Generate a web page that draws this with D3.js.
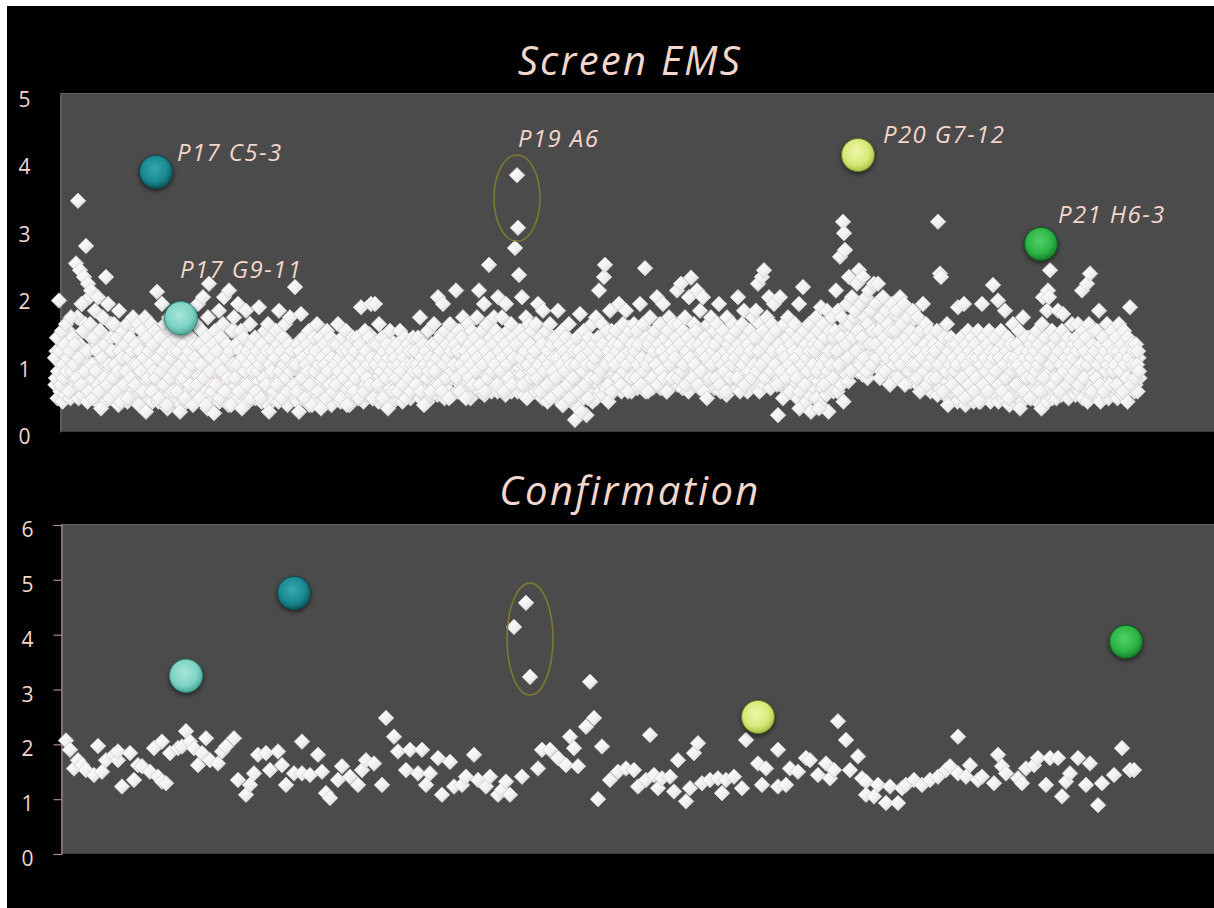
<!DOCTYPE html>
<html><head><meta charset="utf-8">
<script src="https://cdn.jsdelivr.net/npm/d3@7"></script>
<style>html,body{margin:0;padding:0;background:#fff;} svg{display:block}</style>
</head><body>
<svg id="c" width="1214" height="908"></svg>
<script>
// ---------- DATA ----------
const panelTitles = ["Screen EMS", "Confirmation"];
const screenTicks = [0, 1, 2, 3, 4, 5];
const confirmTicks = [0, 1, 2, 3, 4, 5, 6];

// Screen EMS, replicate 1: one value per well, in plate order
const screenValues = [
1.1,0.8,1.4,0.9,1.95,1.2,0.7,1.5,1.0,0.8,1.3,1.6,0.9,1.1,0.6,1.2,1.7,0.9,1.4,1.0,
1.3,2.5,0.8,3.43,1.1,2.4,0.7,1.9,1.5,2.3,0.9,2.76,1.2,2.2,0.6,1.6,2.1,1.0,0.5,1.4,
1.8,0.9,1.2,2.0,0.6,1.5,0.35,1.1,1.7,0.8,1.3,2.3,0.7,1.9,1.0,0.5,1.4,1.2,0.8,1.6,
1.0,0.6,1.4,0.9,1.8,1.2,0.45,1.1,1.5,0.7,1.3,0.9,1.6,0.5,1.1,1.4,0.8,1.2,1.7,1.0,
0.7,1.3,1.0,1.6,0.4,1.2,0.9,1.5,0.6,1.1,1.7,0.3,1.4,0.8,1.2,1.0,1.6,0.6,1.3,0.9,
1.5,0.8,2.08,1.1,0.5,1.4,0.9,1.9,1.2,0.7,1.6,1.0,0.4,1.3,1.7,0.8,1.1,1.5,0.6,1.2,
0.9,1.4,0.6,1.2,1.7,0.3,1.0,1.5,0.8,1.3,0.5,1.1,1.6,0.9,1.2,0.7,1.4,1.0,0.4,1.3,
1.1,1.6,0.7,1.9,1.3,0.5,1.0,1.5,2.0,0.8,1.2,0.4,1.4,1.7,2.2,0.9,1.1,0.6,1.3,0.28,
1.5,0.7,1.2,1.0,1.8,0.5,1.4,0.9,1.6,2.0,0.6,1.1,1.3,0.8,2.1,1.2,0.4,1.5,1.0,1.7,
0.8,1.3,1.0,1.9,0.6,1.2,1.5,0.35,1.1,1.4,0.9,1.8,0.7,1.2,1.0,1.6,0.5,1.3,0.9,1.1,
1.4,0.6,1.2,0.9,1.85,1.0,0.5,1.3,1.1,0.8,1.5,0.7,1.2,1.6,0.3,1.0,1.4,0.9,1.2,0.6,
1.1,1.5,0.7,1.3,1.8,0.9,1.2,0.5,1.4,1.0,1.6,0.8,1.1,0.6,1.3,1.7,0.9,1.2,1.0,0.7,
2.15,1.0,0.6,1.3,0.3,1.2,1.75,0.8,1.1,1.4,0.5,1.0,1.3,0.9,1.5,0.7,1.2,0.4,1.1,1.4,
0.9,1.2,1.6,0.6,1.0,1.4,0.35,1.1,0.8,1.3,1.0,0.5,1.5,0.9,1.2,0.7,1.4,1.1,0.6,1.3,
1.0,0.7,1.3,1.6,0.9,1.1,0.5,1.4,1.2,0.8,1.0,1.5,0.4,1.2,0.9,1.3,0.7,1.1,1.4,0.6,
1.2,0.8,1.4,1.0,0.5,1.3,1.85,0.9,1.1,0.6,1.5,1.2,0.8,1.0,1.4,0.7,1.9,1.1,0.5,1.3,
1.9,1.0,1.3,0.7,1.6,1.1,0.9,1.4,0.5,1.2,1.0,0.8,1.3,0.35,1.1,1.5,0.9,1.2,0.6,1.0,
1.1,0.8,1.3,0.6,1.0,1.5,0.9,1.2,0.7,1.1,1.4,0.5,1.0,1.3,0.8,1.2,0.6,1.0,1.4,0.9,
1.2,0.7,1.0,1.4,0.9,1.7,0.6,1.1,1.3,0.4,1.0,1.2,0.8,1.5,0.9,1.1,0.6,1.3,1.0,1.6,
0.9,1.3,1.1,2.0,0.7,1.4,1.2,0.6,1.9,1.0,1.5,0.8,1.3,1.1,0.5,1.6,1.2,0.9,1.4,1.0,
1.3,2.1,0.8,1.2,1.5,0.6,1.0,1.4,1.7,0.9,1.2,0.5,1.1,1.6,0.8,1.3,1.0,1.5,0.7,1.2,
1.4,0.9,1.7,1.1,2.1,0.7,1.3,1.5,1.0,1.9,0.6,1.2,1.6,0.8,2.48,1.1,1.4,0.9,1.3,1.7,
1.0,1.5,0.7,2.0,1.2,1.4,0.9,1.7,1.1,0.6,1.3,1.9,1.0,1.5,0.8,1.2,1.6,0.7,1.4,1.1,
2.73,1.3,3.81,3.03,2.33,1.5,1.1,2.0,0.7,1.4,1.2,1.7,0.5,1.0,1.6,1.3,0.8,1.5,1.1,0.9,
1.2,1.6,0.8,1.9,1.0,1.4,0.6,1.3,1.8,0.9,1.1,1.5,0.7,1.2,1.0,1.6,0.5,1.3,0.9,1.1,
1.4,0.8,1.1,1.8,0.6,1.3,1.0,1.5,0.4,1.2,0.9,1.4,0.7,1.1,1.6,0.5,1.0,1.3,0.8,1.2,
0.18,1.0,1.4,0.6,1.2,1.75,0.3,1.1,0.9,1.5,0.7,1.3,1.0,0.5,1.4,1.2,0.8,1.6,1.0,1.3,
1.1,1.7,0.8,1.4,2.1,1.2,0.9,1.6,1.3,2.3,2.48,1.0,1.5,0.7,1.2,1.8,1.1,0.6,1.4,1.3,
1.0,1.5,1.2,0.8,1.9,1.3,0.7,1.1,1.6,0.9,1.4,1.8,1.0,0.6,1.2,1.5,0.8,1.3,1.1,1.6,
1.2,0.8,1.5,1.0,1.3,1.9,0.7,1.1,1.6,0.9,2.43,1.4,1.0,0.6,1.3,1.7,1.1,0.8,1.4,1.2,
1.5,1.0,2.0,0.7,1.3,1.6,0.9,1.2,1.9,0.8,1.4,1.1,0.6,1.5,1.7,1.0,1.3,0.8,1.2,1.6,
1.1,1.4,2.1,0.8,1.6,1.3,2.2,0.9,1.5,1.0,1.7,0.7,1.2,1.4,2.0,1.1,2.29,0.8,1.3,1.6,
1.0,1.5,2.1,0.7,1.3,1.8,0.9,1.2,2.0,0.6,1.4,1.1,0.5,1.6,1.3,0.8,1.7,1.0,1.2,1.5,
1.3,0.8,1.6,1.1,1.9,0.7,1.4,1.0,1.5,0.9,1.2,0.6,1.7,1.1,1.3,0.8,1.4,1.0,1.6,1.2,
1.1,1.5,0.8,2.0,1.3,0.6,1.2,1.6,1.0,1.8,0.7,1.4,1.1,1.3,0.9,1.5,1.2,0.8,1.7,1.0,
1.4,1.8,0.9,2.2,1.2,1.6,1.0,2.3,1.5,2.4,0.8,1.3,1.7,1.1,2.0,1.4,0.9,1.6,1.2,1.9,
1.0,1.5,0.7,0.25,1.3,2.0,0.9,1.2,0.5,1.6,1.1,0.8,1.4,1.7,1.0,0.6,1.3,1.5,0.9,1.2,
1.6,1.1,0.8,1.4,1.9,0.6,1.2,1.0,2.15,1.5,0.7,1.3,1.1,0.9,1.6,1.2,0.3,1.4,1.0,1.3,
1.2,1.7,0.9,1.5,0.35,1.3,1.85,1.0,1.6,0.7,1.4,1.1,1.8,0.9,1.2,1.5,1.0,1.7,0.8,1.4,
1.5,2.1,1.2,1.8,1.0,2.6,1.4,1.7,3.12,2.95,2.7,1.3,1.9,1.1,2.3,1.6,0.9,2.0,1.4,1.7,
1.8,1.2,2.2,1.5,2.4,1.0,1.9,1.4,2.3,1.1,1.7,2.0,0.9,1.6,2.1,1.3,1.8,1.0,1.5,2.2,
1.3,1.9,1.1,2.2,1.5,0.8,1.7,1.2,2.0,1.4,0.9,1.8,1.1,1.6,1.3,0.7,1.5,1.9,1.2,1.0,
1.5,1.1,1.8,0.8,1.3,2.0,1.0,1.6,1.2,1.9,0.7,1.4,1.1,1.7,0.9,1.3,1.5,1.0,1.8,1.2,
1.0,1.4,0.8,1.7,1.2,0.6,1.5,1.1,1.9,0.9,1.3,1.6,0.7,1.2,1.0,1.5,0.8,1.4,1.1,1.3,
1.2,0.8,1.5,3.12,1.0,2.35,2.3,1.3,0.6,1.4,1.1,0.9,1.6,0.4,1.2,1.0,1.4,0.7,1.3,1.1,
0.9,1.3,1.0,1.85,0.6,1.2,1.4,0.8,1.1,1.9,0.5,1.3,1.0,1.5,0.7,1.2,0.9,1.4,1.1,0.6,
1.3,0.8,1.1,1.5,0.45,1.2,1.0,1.9,0.7,1.4,1.1,0.9,1.3,0.6,1.5,1.0,1.2,0.8,2.18,1.1,
1.4,0.9,1.2,1.95,0.7,1.1,1.5,0.6,1.3,1.0,1.8,0.8,1.2,1.4,0.5,1.1,1.3,0.9,1.6,1.0,
1.1,0.7,1.3,1.0,1.5,0.35,1.2,0.9,1.7,0.6,1.1,1.4,0.8,1.2,1.0,0.5,1.3,1.1,0.8,1.4,
1.2,0.9,1.5,1.0,1.3,0.6,1.1,1.6,2.0,0.8,1.4,1.2,1.8,2.1,2.0,2.4,1.0,1.5,0.7,1.3,
1.1,1.4,0.8,1.8,1.2,0.6,1.0,1.5,1.75,0.9,1.3,1.1,0.7,1.4,1.0,1.2,0.8,1.6,1.1,1.3,
0.9,1.4,1.2,1.6,0.7,1.3,1.0,2.1,1.5,0.8,1.2,1.4,2.2,1.0,1.6,2.35,1.1,0.6,1.3,1.5,
1.2,0.8,1.5,1.0,1.8,0.7,1.3,1.1,1.4,0.6,1.2,0.9,1.6,1.0,1.3,0.7,1.1,1.5,0.9,1.2,
1.0,1.4,0.7,1.2,1.6,0.9,1.1,1.3,0.6,1.5,1.0,1.2,0.8,1.4,1.1,1.85,0.7,1.3,1.0,1.2,
0.8,1.3,1.0,1.2,0.9
];

// Screen EMS, replicate 2 (same wells)
const screenReplicate = [
0.7,1.2,0.5,0.9,1.4,0.6,1.0,0.45,1.3,0.8,0.55,1.1,0.7,1.5,0.9,0.5,1.2,0.65,1.0,0.8,
0.6,1.0,1.7,0.5,1.3,0.8,1.9,0.55,1.1,0.7,1.6,0.9,0.45,1.2,2.0,0.6,1.4,0.8,1.0,0.5,
0.9,0.5,1.3,0.7,1.5,0.4,1.0,0.6,1.2,0.8,0.45,1.4,0.9,0.55,1.1,0.7,1.6,0.5,1.0,0.8,
0.55,1.2,0.8,0.4,1.0,1.4,0.6,0.9,0.5,1.3,0.7,1.1,0.45,0.85,1.5,0.6,1.0,0.5,1.2,0.75,
1.0,0.5,0.8,1.3,0.6,0.95,0.4,1.15,0.7,1.4,0.55,0.9,1.2,0.5,1.0,0.65,1.3,0.45,0.8,1.1,
0.6,1.1,0.8,0.45,1.3,0.7,1.0,0.5,1.5,0.9,0.6,1.2,0.35,0.85,1.4,0.55,1.0,0.7,1.25,0.5,
0.8,0.5,1.2,0.65,1.0,0.4,1.35,0.75,0.55,1.1,0.9,0.45,1.3,0.6,1.0,0.8,0.5,1.2,0.7,0.95,
0.6,1.3,0.85,0.5,1.1,0.7,1.5,0.45,0.9,1.2,0.6,1.0,0.35,0.8,1.4,0.55,1.05,0.7,1.25,0.5,
0.9,0.55,1.2,0.7,0.45,1.0,1.4,0.6,0.85,1.1,0.5,1.3,0.75,0.4,1.0,0.65,1.2,0.55,0.9,1.5,
0.7,1.0,0.5,1.25,0.8,0.4,1.1,0.6,1.4,0.9,0.55,1.05,0.75,0.45,1.3,0.65,1.0,0.5,1.2,0.85,
0.5,1.1,0.75,1.35,0.6,0.95,0.45,1.2,0.8,0.55,1.0,1.45,0.65,0.4,1.15,0.7,0.9,0.5,1.3,0.8,
1.0,0.6,0.85,0.45,1.25,0.7,1.05,0.5,1.4,0.8,0.6,1.15,0.4,0.9,1.3,0.55,1.0,0.7,0.5,1.2,
0.65,1.1,0.45,0.9,1.35,0.6,0.8,1.2,0.5,1.0,0.7,1.45,0.55,0.85,0.4,1.1,0.75,1.25,0.6,0.95,
0.8,0.5,1.2,0.7,1.0,0.45,1.3,0.6,0.9,1.15,0.5,0.75,1.4,0.55,1.0,0.65,0.4,1.2,0.85,0.6,
0.55,1.05,0.8,1.3,0.6,0.45,1.15,0.7,0.95,0.5,1.35,0.65,0.85,1.1,0.4,0.75,1.2,0.55,1.0,0.7,
0.9,0.6,1.25,0.5,0.8,1.4,0.65,1.0,0.45,1.2,0.7,0.55,1.1,0.85,1.45,0.6,0.95,0.5,1.3,0.75,
0.6,1.15,0.8,0.45,1.3,0.7,1.0,0.55,1.4,0.9,0.6,1.2,0.75,0.5,1.05,0.65,1.35,0.8,0.45,1.1,
0.75,0.5,1.1,0.9,0.6,1.3,0.7,0.45,1.0,0.8,1.2,0.55,0.95,0.65,1.35,0.5,0.85,1.1,0.6,1.0,
0.85,0.6,1.2,0.7,0.95,0.5,1.35,0.8,0.55,1.1,0.65,1.0,0.45,1.25,0.75,0.9,0.55,1.15,0.7,1.3,
0.7,1.1,0.55,1.3,0.85,0.6,1.45,0.75,1.0,0.5,1.2,0.65,0.9,1.35,0.6,1.05,0.8,0.55,1.25,0.9,
0.8,1.2,0.6,1.0,1.4,0.7,0.9,0.55,1.3,0.85,1.1,0.6,1.5,0.75,0.95,0.5,1.2,0.8,1.05,0.65,
0.9,0.65,1.3,0.8,1.1,0.6,1.5,0.75,1.0,0.55,1.25,0.85,1.4,0.7,0.95,1.15,0.6,1.35,0.8,1.05,
0.75,1.2,0.6,1.45,0.9,1.05,0.65,1.3,0.8,1.15,0.55,1.0,1.4,0.7,0.9,1.25,0.6,1.1,0.85,1.35,
0.8,1.1,0.6,1.3,0.95,0.7,1.45,0.85,1.0,0.55,1.2,0.75,1.35,0.65,1.05,0.9,1.5,0.7,1.15,0.6,
0.95,0.6,1.25,0.8,1.4,0.65,1.05,0.5,1.3,0.85,1.1,0.7,0.45,1.2,0.9,1.35,0.6,1.0,0.75,1.15,
0.7,1.05,0.5,1.3,0.85,0.6,1.15,0.4,0.95,1.25,0.65,0.8,1.4,0.55,1.0,0.75,0.45,1.2,0.9,0.6,
0.55,1.0,0.8,0.35,1.2,0.65,0.9,1.35,0.5,1.1,0.7,0.25,1.05,0.85,0.6,1.3,0.75,0.45,1.15,0.95,
0.8,0.5,1.2,0.7,1.4,0.6,0.95,1.1,0.55,1.3,0.85,0.65,1.0,0.45,1.25,0.75,1.5,0.9,0.6,1.15,
0.95,1.3,0.7,1.1,0.85,1.45,0.6,1.2,0.9,1.05,0.65,1.35,0.8,1.55,0.75,1.0,0.6,1.25,0.9,1.15,
0.8,1.2,0.65,1.4,0.95,1.1,0.7,1.3,0.85,1.55,0.6,1.05,0.9,1.25,0.75,1.45,1.0,0.65,1.15,0.85,
1.05,0.7,1.3,0.85,1.5,0.65,1.15,0.95,1.35,0.75,1.0,0.6,1.25,0.9,1.45,0.8,1.1,0.7,1.3,0.95,
0.85,1.25,0.7,1.05,1.4,0.8,1.15,0.65,1.5,0.9,1.0,0.75,1.3,0.6,1.2,0.95,1.45,0.8,1.1,0.7,
0.9,1.35,0.75,1.15,0.65,1.5,0.95,1.2,0.8,1.4,1.0,0.7,1.3,0.85,1.55,0.75,1.1,0.9,1.25,0.65,
1.0,0.7,1.35,0.85,1.2,0.6,1.45,0.9,1.1,0.75,1.3,0.55,1.05,0.95,1.5,0.7,1.2,0.8,1.4,0.9,
0.8,1.2,0.65,1.4,0.95,1.1,0.7,1.3,0.85,1.55,0.75,1.0,0.6,1.25,0.9,1.45,0.8,1.15,0.7,1.05,
0.95,1.3,0.75,1.15,0.6,1.45,0.85,1.05,1.35,0.7,1.2,0.9,1.5,0.8,1.1,0.65,1.4,0.95,1.25,0.75,
1.1,0.8,1.45,0.95,1.25,0.7,1.55,0.9,1.35,1.05,0.75,1.6,0.85,1.2,1.0,1.4,0.8,1.3,0.95,1.15,
0.7,1.2,0.5,1.0,0.35,1.3,0.85,1.1,0.6,1.45,0.9,0.45,1.2,0.75,1.35,0.55,1.05,0.8,1.25,0.65,
0.9,0.5,1.25,0.75,1.1,0.4,1.35,0.65,1.0,0.85,1.45,0.55,1.15,0.3,0.95,1.3,0.7,1.05,0.6,1.2,
0.8,1.3,0.6,1.15,0.95,1.5,0.7,1.25,0.45,1.05,1.4,0.85,1.6,0.75,1.2,1.0,1.45,0.9,1.35,1.1,
1.2,1.6,0.9,1.4,1.8,1.05,1.5,0.85,1.3,1.7,1.0,1.45,0.8,1.65,1.15,1.9,0.95,1.35,1.55,1.1,
1.3,1.75,1.0,1.5,1.2,1.9,0.9,1.6,1.35,1.05,1.8,1.25,0.85,1.55,1.15,1.7,1.0,1.45,1.85,1.2,
1.1,1.55,0.85,1.35,1.7,0.95,1.25,1.6,0.8,1.45,1.05,1.8,0.9,1.3,1.5,0.75,1.2,1.65,1.0,1.4,
0.9,1.3,0.7,1.15,1.5,0.8,1.05,1.4,0.65,1.2,0.95,1.55,0.75,1.1,1.35,0.6,1.0,1.45,0.85,1.25,
0.7,1.1,0.55,0.95,1.3,0.65,1.2,0.8,1.45,0.6,1.0,0.75,1.35,0.5,1.15,0.9,0.6,1.25,0.8,1.05,
0.6,1.0,0.45,1.2,0.8,1.35,0.55,0.95,0.7,1.15,0.4,1.3,0.85,0.5,1.05,0.65,1.25,0.75,0.45,1.1,
0.8,0.5,1.15,0.65,1.0,0.45,1.3,0.75,0.9,0.55,1.2,0.7,1.4,0.6,0.95,0.45,1.1,0.8,0.6,1.25,
0.55,1.05,0.75,0.45,1.2,0.65,0.95,1.35,0.5,0.85,1.1,0.6,1.3,0.7,0.4,1.0,0.8,1.15,0.55,0.9,
0.7,1.15,0.5,0.9,1.3,0.6,1.05,0.45,1.25,0.8,0.55,1.0,0.7,1.4,0.6,0.95,0.5,1.2,0.75,1.05,
0.6,0.95,0.45,1.2,0.75,1.05,0.35,0.85,1.3,0.55,1.0,0.7,0.45,1.15,0.65,0.9,1.25,0.5,0.8,1.1,
0.75,0.5,1.1,0.65,1.3,0.85,0.55,1.2,0.95,0.6,1.4,0.7,1.05,0.5,1.25,0.8,0.6,1.15,0.9,0.7,
0.55,1.0,0.75,1.25,0.6,0.9,1.35,0.5,1.1,0.8,0.65,1.2,0.45,0.95,1.3,0.7,1.05,0.55,0.85,1.15,
0.8,0.55,1.2,0.7,1.0,0.45,1.3,0.65,0.9,1.15,0.6,1.4,0.75,0.5,1.05,0.85,1.25,0.6,0.95,0.7,
0.65,1.1,0.5,0.9,1.25,0.7,1.0,0.55,1.35,0.8,0.6,1.15,0.45,0.95,1.2,0.65,1.05,0.75,1.3,0.6,
0.7,1.0,0.6,1.1,0.8
];

// Confirmation: well position and value
const confirmWells = [
0,1,2,3,4,5,7,8,9,10,12,13,13,14,16,17,18,19,21,22,23,24,24,25,26,28,29,30,31,32,33,34,35,36,38,39,40,42,43,45,
46,47,48,50,51,53,54,55,57,59,59,61,63,64,65,66,68,69,71,73,74,75,77,79,80,82,83,85,86,88,89,90,91,93,94,96,97,99,100,102,
103,105,106,108,109,110,111,112,114,115,116,118,119,121,123,125,126,127,128,130,131,132,133,134,136,138,140,142,143,145,146,147,148,149,151,152,153,155,156,157,
158,159,161,163,164,165,167,169,170,173,174,175,178,178,180,181,183,185,186,188,190,191,192,193,195,196,198,199,200,200,202,203,205,206,208,209,210,212,214,216,
218,220,221,223,223,225,226,228,229,232,233,234,235,238,239,240,242,243,245,246,248,249,250,251,253,255,256,258,259,262,264,266,267
];
const confirmValues = [
2.07,1.90,1.56,1.71,1.62,1.53,1.44,1.97,1.50,1.71,1.81,1.71,1.87,1.23,1.84,1.35,1.62,1.60,1.50,1.93,1.41,2.05,1.32,1.29,1.84,1.93,1.96,2.24,2.05,1.93,1.62,1.84,2.11,1.71,1.65,1.87,1.96,2.11,1.35,1.08,
1.26,1.47,1.81,1.84,1.53,1.87,1.62,1.26,1.47,2.05,1.47,1.44,1.81,1.50,1.11,1.02,1.35,1.60,1.41,1.26,1.53,1.71,1.65,1.26,2.48,2.14,1.87,1.53,1.90,1.47,1.90,1.26,1.47,1.75,1.08,1.68,1.23,1.26,1.41,1.81,
1.35,1.23,1.41,1.08,1.17,1.32,1.08,4.14,1.41,4.58,3.23,1.56,1.90,1.90,1.75,1.62,2.14,1.93,1.60,2.32,3.14,2.48,1.00,1.96,1.35,1.50,1.56,1.53,1.23,1.35,2.17,1.44,1.20,1.38,1.41,1.14,1.71,0.96,1.20,1.84,
2.02,1.29,1.35,1.38,1.11,1.35,1.41,1.20,2.08,1.65,1.26,1.56,1.90,1.23,1.26,1.56,1.50,1.75,1.71,1.44,1.65,1.38,1.53,2.42,2.08,1.53,1.78,1.38,1.32,1.08,1.05,1.26,0.93,1.23,0.93,1.20,1.26,1.35,1.26,1.35,
1.41,1.53,1.60,2.14,1.47,1.41,1.62,1.35,1.41,1.29,1.81,1.60,1.47,1.38,1.29,1.56,1.62,1.75,1.26,1.75,1.75,1.05,1.32,1.47,1.75,1.26,1.65,0.89,1.29,1.44,1.93,1.53,1.53
];

// Highlighted hits (screen well/value, confirmation well/value)
const hitNames = ["P17 C5-3", "P17 G9-11", "P20 G7-12", "P21 H6-3"];
const hitScreenWells = [101, 126, 803, 986];
const hitScreenValues = [3.86, 1.69, 4.11, 2.79];
const hitConfirmWells = [57, 30, 173, 265];
const hitConfirmValues = [4.76, 3.25, 2.50, 3.87];

// Circled group P19 A6
const groupName = "P19 A6";
const groupScreenWell = 462, groupScreenRange = [2.83, 4.11];
const groupConfirmWell = 116, groupConfirmRange = [2.9, 4.94];

// ---------- STYLE ----------
const hitStyles = [
  {c0:"#35a9ad", c1:"#1a8990", c2:"#0c5a60", stroke:"#0a4a50"},
  {c0:"#a6e6d8", c1:"#7fd3c4", c2:"#4ea999", stroke:"#2f8a7c"},
  {c0:"#f0f8a8", c1:"#d6e97a", c2:"#a9c24a", stroke:"#5e7a1c"},
  {c0:"#52d067", c1:"#2db446", c2:"#18822c", stroke:"#0f5e1e"}
];
const labelOffsets = [[21,-11],[-1,-40],[25,-12],[17,-21]];
const textColor = "#f3d6cc";
const fontFam = "'Open Sans', Lato, sans-serif";

const svg = d3.select("#c");
svg.append("rect").attr("x",0).attr("y",0).attr("width",1214).attr("height",908).attr("fill","#fff");
svg.append("rect").attr("x",7).attr("y",6).attr("width",1207).attr("height",902).attr("fill","#000");

const defs = svg.append("defs");
const dg = defs.append("linearGradient").attr("id","dia").attr("x1","0").attr("y1","0").attr("x2","1").attr("y2","1");
dg.append("stop").attr("offset","0%").attr("stop-color","#ffffff");
dg.append("stop").attr("offset","55%").attr("stop-color","#f1f2f3");
dg.append("stop").attr("offset","100%").attr("stop-color","#cfd8dc");
hitStyles.forEach((s,i)=>{
  const g = defs.append("radialGradient").attr("id","hit"+i).attr("cx","45%").attr("cy","40%").attr("r","60%");
  g.append("stop").attr("offset","0%").attr("stop-color",s.c0);
  g.append("stop").attr("offset","65%").attr("stop-color",s.c1);
  g.append("stop").attr("offset","100%").attr("stop-color",s.c2);
});
const shadow = defs.append("filter").attr("id","glow").attr("x","-50%").attr("y","-50%").attr("width","200%").attr("height","200%");
shadow.append("feGaussianBlur").attr("in","SourceAlpha").attr("stdDeviation","2.5").attr("result","b");
shadow.append("feOffset").attr("in","b").attr("dy","2").attr("result","o");
shadow.append("feComponentTransfer").attr("in","o").attr("result","o2").append("feFuncA").attr("type","linear").attr("slope","0.6");
const fm = shadow.append("feMerge");
fm.append("feMergeNode").attr("in","o2");
fm.append("feMergeNode").attr("in","SourceGraphic");

const diamond = "M0,-7.8L7.8,0L0,7.8L-7.8,0Z";

function panel(opt){
  const g = svg.append("g");
  g.append("rect").attr("x",opt.left).attr("y",opt.top).attr("width",1214-opt.left).attr("height",opt.bottom-opt.top)
    .attr("fill","#4b4b4b");
  g.append("line").attr("x1",opt.left).attr("x2",1214).attr("y1",opt.top+0.5).attr("y2",opt.top+0.5).attr("stroke","#666").attr("stroke-width",1);
  g.append("line").attr("x1",opt.left).attr("x2",1214).attr("y1",opt.bottom-0.5).attr("y2",opt.bottom-0.5).attr("stroke","#3a3a3a").attr("stroke-width",1);
  const y = d3.scaleLinear().domain([0, opt.ticks[opt.ticks.length-1]]).range([opt.bottom, opt.yTop]);
  const ax = d3.axisLeft(y).tickValues(opt.ticks).tickFormat(d3.format("d")).tickSize(opt.tickLen).tickPadding(opt.pad);
  const axg = g.append("g").attr("transform",`translate(${opt.left+0.5},0)`).call(ax);
  axg.select(".domain").attr("stroke",opt.axisColor).attr("stroke-width",1.2);
  axg.selectAll(".tick line").attr("stroke",opt.axisColor).attr("stroke-width",1.2);
  axg.selectAll(".tick text").attr("fill",textColor).attr("font-family",fontFam).attr("font-size",21).attr("dy","0.55em");
  g.append("text").attr("x",630).attr("y",opt.titleY).attr("text-anchor","middle").attr("fill",textColor)
    .attr("font-family",fontFam).attr("font-style","italic").attr("font-size",40).attr("letter-spacing",2.3).text(opt.title);
  return {g,y};
}
function drawDiamonds(P, x, vals, wells){
  P.g.append("g").selectAll("path").data(vals).join("path")
    .attr("d",diamond).attr("transform",(d,i)=>`translate(${x(wells ? wells[i] : i)},${P.y(d)})`)
    .attr("fill","url(#dia)").attr("stroke","#d7c9c6").attr("stroke-width",0.8);
}
function label(P, x, y, t){
  P.g.append("text").attr("x",x).attr("y",y).attr("fill",textColor)
    .attr("font-family",fontFam).attr("font-style","italic").attr("font-size",24).attr("letter-spacing",1.4).text(t);
}

// Top panel
const P1 = panel({left:60, top:93, bottom:432, yTop:95, ticks:screenTicks,
  tickLen:0, pad:30, axisColor:"#6a6a6a", title:panelTitles[0], titleY:75});
const x1 = d3.scaleLinear().domain([0, screenValues.length-1]).range([55,1139]);
const x1r = d3.scaleLinear().domain([0, screenReplicate.length-1]).range([55.5,1139.5]);
drawDiamonds(P1, x1r, screenReplicate);
drawDiamonds(P1, x1, screenValues);

// Bottom panel
const P2 = panel({left:61, top:524, bottom:854, yTop:525, ticks:confirmTicks,
  tickLen:8, pad:20, axisColor:"#a58b80", title:panelTitles[1], titleY:505});
const x2 = d3.scaleLinear().domain([0,267]).range([66,1134]);
drawDiamonds(P2, x2, confirmValues, confirmWells);

// Ellipses for P19 A6
function ell(P, x, well, range){
  const cy = (P.y(range[0])+P.y(range[1]))/2, ry = Math.abs(P.y(range[0])-P.y(range[1]))/2;
  P.g.append("ellipse").attr("cx",x(well)).attr("cy",cy).attr("rx",23).attr("ry",ry)
    .attr("fill","none").attr("stroke","#7d7a2e").attr("stroke-width",1.6);
}
ell(P1, x1, groupScreenWell, groupScreenRange);
ell(P2, x2, groupConfirmWell, groupConfirmRange);
label(P1, x1(groupScreenWell)+1, 147, groupName);

// Hits
hitNames.forEach((n,i)=>{
  const cx = x1(hitScreenWells[i]), cy = P1.y(hitScreenValues[i]);
  P1.g.append("circle").attr("cx",cx).attr("cy",cy).attr("r",16.5).attr("fill",`url(#hit${i})`)
    .attr("stroke",hitStyles[i].stroke).attr("stroke-width",1).attr("filter","url(#glow)");
  label(P1, cx+labelOffsets[i][0], cy+labelOffsets[i][1], n);
  const bx = x2(hitConfirmWells[i]), by = P2.y(hitConfirmValues[i]);
  P2.g.append("circle").attr("cx",bx).attr("cy",by).attr("r",16.5).attr("fill",`url(#hit${i})`)
    .attr("stroke",hitStyles[i].stroke).attr("stroke-width",1).attr("filter","url(#glow)");
});
</script>
</body></html>
